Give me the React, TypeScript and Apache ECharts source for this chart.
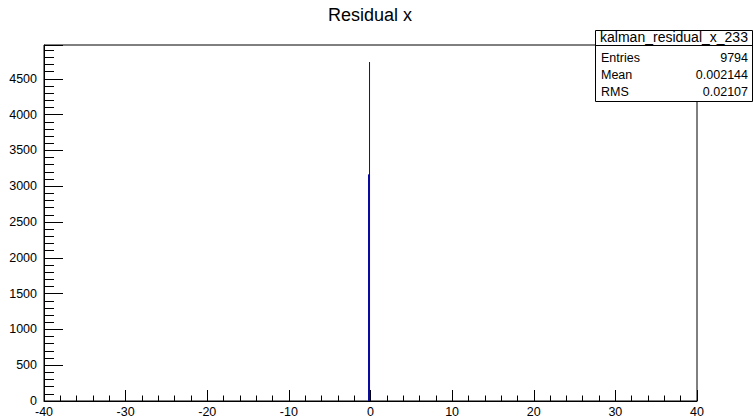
import React, { useEffect, useRef } from "react";
import * as echarts from "echarts";

const chartTitle = "Residual x";
const histName = "kalman_residual_x_233";
const statLabels = ["Entries", "Mean", "RMS"];
const statValues = ["9794", "0.002144", "0.02107"];

// histogram bins near zero: [low edge, high edge, count]
const binLow = [-0.18, -0.31];
const binHigh = [-0.06, -0.06];
const binCount = [4735, 3165];

const xMin = -40;
const xMax = 40;
const xInterval = 10;
const yMin = 0;
const yMax = 4972;
const yInterval = 500;

const FONT = "Liberation Sans, Arial, Helvetica, sans-serif";

export default function App() {
  const ref = useRef<HTMLDivElement>(null);
  useEffect(() => {
    if (!ref.current) return;
    const chart = echarts.init(ref.current, undefined, { renderer: "svg" });
    const data = binLow.map((lo, i) => [lo, binHigh[i], binCount[i]]);
    chart.setOption({
      animation: false,
      backgroundColor: "#fff",
      grid: {
        left: 44,
        right: 56,
        top: 45,
        bottom: 18,
        show: true,
        borderColor: "#000",
        borderWidth: 1,
        backgroundColor: "transparent",
      },
      xAxis: {
        type: "value",
        min: xMin,
        max: xMax,
        interval: xInterval,
        axisLine: { show: true, onZero: false, lineStyle: { color: "#000", width: 1 } },
        axisTick: { show: true, inside: true, length: 11, lineStyle: { color: "#000" } },
        minorTick: { show: true, splitNumber: 5, length: 5.5, lineStyle: { color: "#000" } },
        splitLine: { show: false },
        axisLabel: { color: "#000", fontSize: 12.5, fontFamily: FONT, margin: 4 },
      },
      yAxis: {
        type: "value",
        min: yMin,
        max: yMax,
        interval: yInterval,
        axisLine: { show: true, onZero: false, lineStyle: { color: "#000", width: 1 } },
        axisTick: { show: true, inside: true, length: 19, lineStyle: { color: "#000" } },
        minorTick: { show: true, splitNumber: 5, length: 10, lineStyle: { color: "#000" } },
        splitLine: { show: false },
        axisLabel: {
          color: "#000",
          fontSize: 12.5,
          fontFamily: FONT,
          margin: 7,
          formatter: (v: number) => (v % yInterval === 0 ? String(v) : ""),
        },
      },
      series: [
        {
          type: "custom",
          data,
          renderItem: (params: any, api: any) => {
            const lo = api.value(0);
            const hi = api.value(1);
            const c = api.value(2);
            const p0 = api.coord([lo, 0]);
            const p1 = api.coord([hi, c]);
            const w = Math.max(1, p1[0] - p0[0]);
            return {
              type: "rect",
              shape: { x: p0[0], y: p1[1], width: w, height: p0[1] - p1[1] },
              style: { fill: "#0a0aa0" },
            };
          },
          encode: { x: [0, 1], y: 2 },
        },
      ],
      graphic: [
        {
          type: "text",
          x: 370,
          y: 15,
          style: {
            text: chartTitle,
            font: `18px ${FONT}`,
            fill: "#000",
            textAlign: "center",
            textVerticalAlign: "middle",
          },
        },
        {
          type: "rect",
          z: 100,
          shape: { x: 595.5, y: 30.5, width: 157, height: 71 },
          style: { fill: "#fff", stroke: "#000", lineWidth: 1 },
        },
        {
          type: "line",
          z: 101,
          shape: { x1: 595.5, y1: 45.5, x2: 752.5, y2: 45.5 },
          style: { stroke: "#000", lineWidth: 1 },
        },
        {
          type: "text",
          z: 101,
          x: 674,
          y: 37,
          style: {
            text: histName,
            font: `14px ${FONT}`,
            fill: "#000",
            textAlign: "center",
            textVerticalAlign: "middle",
          },
        },
        ...statLabels.map((lab, i) => ({
          type: "text",
          z: 101,
          x: 601,
          y: 58 + i * 17,
          style: {
            text: lab,
            font: `12.5px ${FONT}`,
            fill: "#000",
            textAlign: "left",
            textVerticalAlign: "middle",
          },
        })),
        ...statValues.map((val, i) => ({
          type: "text",
          z: 101,
          x: 748,
          y: 58 + i * 17,
          style: {
            text: val,
            font: `12.5px ${FONT}`,
            fill: "#000",
            textAlign: "right",
            textVerticalAlign: "middle",
          },
        })),
      ],
    });
    return () => chart.dispose();
  }, []);
  return (
    <div
      ref={ref}
      style={{ position: "fixed", left: 0, top: 0, width: 753, height: 419 }}
    />
  );
}
